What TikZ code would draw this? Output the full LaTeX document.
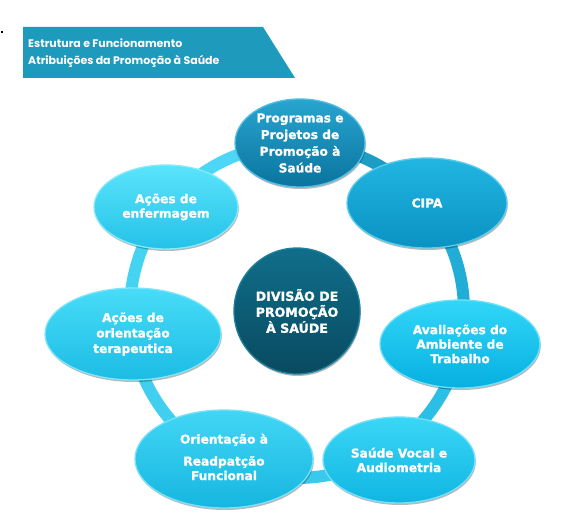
\documentclass[tikz,border=0pt]{standalone}
\usepackage{fontspec}
\setmainfont{DejaVu Sans}[BoldFeatures={FakeBold=1.2}]
\newfontfamily\titlefont{Poppins}
\usetikzlibrary{shapes.geometric,shadows}
\definecolor{bannerc}{HTML}{1E9ABD}
\definecolor{ringA}{HTML}{1C9DC6}
\definecolor{ringB}{HTML}{22ADD6}
\definecolor{ringC}{HTML}{2BBFE6}
\definecolor{ringD}{HTML}{38C9EC}
\definecolor{ringE}{HTML}{40CFEF}
\definecolor{ringF}{HTML}{45D3F2}
\definecolor{ringG}{HTML}{4BD7F5}
\tikzset{
  bub/.style={ellipse, inner sep=0pt, line width=1.3pt,
    drop shadow={shadow xshift=0.8pt, shadow yshift=-2pt, opacity=0.28, fill=black}},
  lbl/.style={text=white, align=center, inner sep=0pt,
    font=\bfseries\fontsize{12.2}{14.5}\selectfont},
  ringseg/.style={line width=12pt},
}
\begin{document}
\begin{tikzpicture}[x=1pt,y=1pt]
\path[use as bounding box, fill=white] (0,0) rectangle (580,513);
% banner
\fill[black] (0.5,479.5) rectangle (3,481.5);
\fill[bannerc] (23,486) -- (263,486) -- (295,435) -- (23,435) -- cycle;
\node[anchor=west, align=left, text=white, inner sep=0pt,
  font=\titlefont\bfseries\fontsize{11}{17}\selectfont] (title) at (28,459.5)
  {Estrutura e Funcionamento\\Atribuições da Promoção à Saúde};
% ring
\coordinate (C) at (297,202);
\draw[ringseg, ringA] (C) ++(90:167) arc[start angle=90, end angle=40, radius=167];
\draw[ringseg, ringB] (C) ++(40:167) arc[start angle=40, end angle=-11, radius=167];
\draw[ringseg, ringC] (C) ++(-11:167) arc[start angle=-11, end angle=-56, radius=167];
\draw[ringseg, ringD] (C) ++(-56:167) arc[start angle=-56, end angle=-116, radius=167];
\draw[ringseg, ringE] (C) ++(-116:167) arc[start angle=-116, end angle=-188, radius=167];
\draw[ringseg, ringF] (C) ++(-188:167) arc[start angle=-188, end angle=-218, radius=167];
\draw[ringseg, ringG] (C) ++(-218:167) arc[start angle=-218, end angle=-270, radius=167];
% bubbles
\node[bub, minimum width=130, minimum height=88, top color={rgb,255:red,40;green,165;blue,208},
  bottom color={rgb,255:red,10;green,116;blue,158}, draw={rgb,255:red,80;green,190;blue,226}] (prog) at (300,370) {};
\node[bub, minimum width=160, minimum height=90, top color={rgb,255:red,34;green,182;blue,226},
  bottom color={rgb,255:red,10;green,146;blue,194}, draw={rgb,255:red,90;green,205;blue,238}] (cipa) at (427,310) {};
\node[bub, minimum width=160, minimum height=88, top color={rgb,255:red,50;green,214;blue,248},
  bottom color={rgb,255:red,6;green,176;blue,224}, draw={rgb,255:red,110;green,225;blue,250}] (aval) at (460,169) {};
\node[bub, minimum width=152, minimum height=86, top color={rgb,255:red,58;green,214;blue,246},
  bottom color={rgb,255:red,16;green,182;blue,226}, draw={rgb,255:red,115;green,226;blue,250}] (saude) at (399,53) {};
\node[bub, minimum width=178, minimum height=98, top color={rgb,255:red,66;green,214;blue,245},
  bottom color={rgb,255:red,22;green,182;blue,224}, draw={rgb,255:red,120;green,226;blue,250}] (orient) at (224,54) {};
\node[bub, minimum width=176, minimum height=92, top color={rgb,255:red,72;green,220;blue,248},
  bottom color={rgb,255:red,28;green,188;blue,228}, draw={rgb,255:red,125;green,230;blue,251}] (terap) at (133,179) {};
\node[bub, minimum width=144, minimum height=84, top color={rgb,255:red,90;green,228;blue,251},
  bottom color={rgb,255:red,36;green,194;blue,232}, draw={rgb,255:red,135;green,234;blue,252}] (enferm) at (166,306) {};
\node[bub, circle, minimum size=126, top color={rgb,255:red,16;green,110;blue,138},
  bottom color={rgb,255:red,8;green,74;blue,96}, draw={rgb,255:red,30;green,128;blue,156}] (div) at (297,202) {};
% labels
\node[lbl, font=\bfseries\fontsize{12.2}{16.7}\selectfont] (prog-t) at (prog.center) {Programas e\\Projetos de\\Promoção à\\Saúde};
\node[lbl] (cipa-t) at (cipa.center) {CIPA};
\node[lbl] (aval-t) at (aval.center) {Avaliações do\\Ambiente de\\Trabalho};
\node[lbl] (saude-t) at (saude.center) {Saúde Vocal e\\Audiometria};
\node[lbl] (orient-t) at ([yshift=2]orient.center) {Orientação à\\[7.5pt]Readpatção\\Funcional};
\node[lbl, font=\bfseries\fontsize{12.2}{15.5}\selectfont] (terap-t) at (terap.center) {Ações de\\orientação\\terapeutica};
\node[lbl] (enferm-t) at (enferm.center) {Ações de\\enfermagem};
\node[lbl, font=\bfseries\fontsize{12.6}{16}\selectfont] (div-t) at (div.center) {DIVISÃO DE\\PROMOÇÃO\\À SAÚDE};
\end{tikzpicture}
\end{document}
